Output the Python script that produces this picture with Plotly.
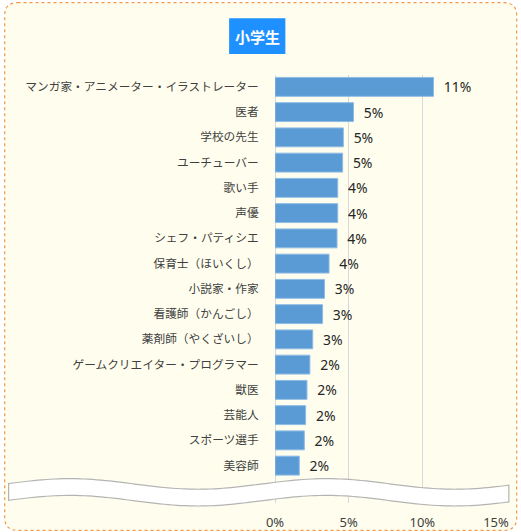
import numpy as np
import plotly.graph_objects as go

categories = [
    "マンガ家・アニメーター・イラストレーター",
    "医者",
    "学校の先生",
    "ユーチューバー",
    "歌い手",
    "声優",
    "シェフ・パティシエ",
    "保育士（ほいくし）",
    "小説家・作家",
    "看護師（かんごし）",
    "薬剤師（やくざいし）",
    "ゲームクリエイター・プログラマー",
    "獣医",
    "芸能人",
    "スポーツ選手",
    "美容師",
]
values = [10.76, 5.33, 4.64, 4.59, 4.26, 4.26, 4.21, 3.67, 3.36, 3.23, 2.56, 2.37, 2.17, 2.08, 1.99, 1.65]
x_ticks = [0, 5, 10, 15]
x_tick_labels = ["0%", "5%", "10%", "15%"]
title_text = "小学生"

# vertical compensation factor (figure height vs reference height)
S = 543 / 532

W = 521
H0 = 532
L, R, T0, B0 = 275, 22, 73, 29
H = round(H0 * S)
T = round(T0 * S)
B = H - round((H0 - B0) * S)
PW, PH = W - L - R, H - T - B


def px(x):
    return (x - L) / PW


def py(y):
    return (H - B - y * S) / PH


fig = go.Figure()
fig.add_trace(go.Bar(
    x=values,
    y=categories,
    orientation="h",
    marker=dict(color="#5B9BD5", line=dict(color="#8FBCE6", width=1)),
    texttemplate="\u00a0\u00a0%{x:.0f}%",
    textposition="outside",
    cliponaxis=False,
    textfont=dict(family="Noto Sans, sans-serif", size=14, color="#262626"),
    hoverinfo="skip",
))

shapes = []

x0, x1, y0, y1, r = 1, 520, 1, 530, 13
path = (
    f"M {px(x0 + r)},{py(y0)} L {px(x1 - r)},{py(y0)} "
    f"Q {px(x1)},{py(y0)} {px(x1)},{py(y0 + r)} "
    f"L {px(x1)},{py(y1 - r)} Q {px(x1)},{py(y1)} {px(x1 - r)},{py(y1)} "
    f"L {px(x0 + r)},{py(y1)} Q {px(x0)},{py(y1)} {px(x0)},{py(y1 - r)} "
    f"L {px(x0)},{py(y0 + r)} Q {px(x0)},{py(y0)} {px(x0 + r)},{py(y0)} Z"
)
shapes.append(dict(type="path", xref="paper", yref="paper", path=path,
                   fillcolor="#FFFEEE", line=dict(color="#F79646", width=1.2, dash="dot"),
                   layer="below"))

shapes.append(dict(type="rect", xref="paper", yref="paper",
                   x0=px(228.5), x1=px(285.5), y0=py(52.5), y1=py(16.5),
                   fillcolor="#1E90FF", line=dict(width=0), layer="above"))

xs = np.linspace(5, 512, 120)
top = 483.5 - 5.3 * np.cos(2 * np.pi * (xs - 67) / 260)
bot = top + 16.8
pts = [(x, y) for x, y in zip(xs, top)] + [(x, y) for x, y in zip(xs[::-1], bot[::-1])]
wpath = "M " + " L ".join(f"{px(x):.5f},{py(y):.5f}" for x, y in pts) + " Z"
shapes.append(dict(type="path", xref="paper", yref="paper", path=wpath,
                   fillcolor="#FFFFFF", line=dict(color="#B4B4B4", width=1.2),
                   layer="above"))

fig.update_layout(
    width=W, height=H,
    margin=dict(l=L, r=R, t=T, b=B, pad=0),
    paper_bgcolor="#FFFFFF",
    plot_bgcolor="rgba(0,0,0,0)",
    showlegend=False,
    bargap=0.25,
    shapes=shapes,
    annotations=[dict(
        text="<b>" + title_text + "</b>", xref="paper", yref="paper",
        x=px(257), y=py(34.5), xanchor="center", yanchor="middle",
        showarrow=False,
        font=dict(family="Noto Sans CJK JP", size=15, color="#FFFFFF"),
    )],
    xaxis=dict(
        range=[0, 15], tickvals=x_ticks, ticktext=x_tick_labels,
        showgrid=True, gridcolor="#D9D9D9", gridwidth=1,
        zeroline=True, zerolinecolor="#D9D9D9", zerolinewidth=1,
        showline=False, ticks="outside", ticklen=7, tickcolor="rgba(0,0,0,0)",
        tickfont=dict(family="Noto Sans, sans-serif", size=13, color="#404040"),
        fixedrange=True,
    ),
    yaxis=dict(
        type="category", categoryorder="array", categoryarray=categories,
        range=[16.48, -0.47],
        showgrid=False, showline=False, zeroline=False,
        ticks="outside", ticklen=13, tickcolor="rgba(0,0,0,0)",
        tickfont=dict(family="Noto Sans CJK JP", size=11.7, color="#404040"),
        fixedrange=True,
    ),
)

fig.write_html(
    "out.html",
    config={"displayModeBar": False},
    post_script="document.body.style.margin='0';",
)
